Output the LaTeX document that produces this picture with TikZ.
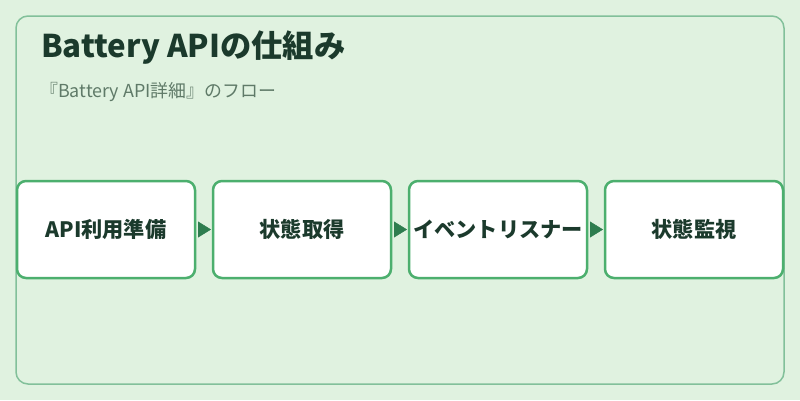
\documentclass[tikz,border=0pt]{standalone}
\usepackage{fontspec}
\setmainfont{Noto Sans CJK JP}
\usetikzlibrary{positioning,arrows.meta}
\definecolor{pagebg}{HTML}{E0F2E0}
\definecolor{framegreen}{HTML}{82C09A}
\definecolor{boxgreen}{HTML}{4CAF6E}
\definecolor{tipgreen}{HTML}{2E7D4F}
\definecolor{titleink}{HTML}{1B3A2C}
\definecolor{subink}{HTML}{5F7A68}
\tikzset{
  stepbox/.style={draw=boxgreen,fill=white,line width=2.5pt,rounded corners=9pt,
    minimum width=178pt,minimum height=97pt,inner sep=0pt,outer sep=0pt,
    font=\bfseries\fontsize{21.2}{24}\selectfont,text=titleink},
  flowarrow/.style={draw=tipgreen,-{Triangle[length=13pt,width=16pt]},
    shorten <=3pt,shorten >=2pt}
}
\begin{document}
\begin{tikzpicture}[x=1pt,y=-1pt]
        \fill[pagebg] (0,0) rectangle (800,400);
        \useasboundingbox (0,0) rectangle (800,400);
        \draw[framegreen,line width=1.5pt,rounded corners=12pt] (16,16) rectangle (784,384);
        \node[anchor=base west,inner sep=0pt,text=titleink,font=\bfseries\fontsize{31.3}{34}\selectfont] (title) at (41,57) {Battery APIの仕組み};
        \node[anchor=base west,inner sep=0pt,text=subink,font=\fontsize{17.9}{20}\selectfont] (subtitle) at (40,97) {『Battery API詳細』のフロー};
        \node[stepbox] (prep) at (106,229.5) {API利用準備};
        \node[stepbox,right=18pt of prep] (fetch) {状態取得};
        \node[stepbox,right=18pt of fetch] (listen) {イベントリスナー};
        \node[stepbox,right=18pt of listen] (watch) {状態監視};
        \draw[flowarrow] (prep) -- (fetch);
        \draw[flowarrow] (fetch) -- (listen);
        \draw[flowarrow] (listen) -- (watch);
      \end{tikzpicture}
\end{document}
